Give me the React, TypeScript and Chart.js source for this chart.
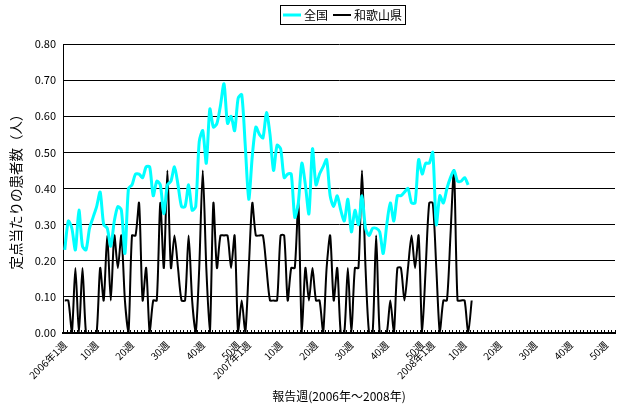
import React, { useEffect, useRef } from "react";
import { Chart, registerables } from "chart.js";

Chart.register(...registerables);

// Categories: weekly reports 2006-2008
const years = ["2006年", "2007年", "2008年"];
const weeksPerYear = 52;
const labeledWeeks = [1, 10, 20, 30, 40, 50];

// 全国 (national) per-sentinel counts, 2006w1 .. 2008w11
const national = [
  0.23, 0.31, 0.29, 0.23, 0.34, 0.24, 0.23, 0.29, 0.32, 0.35,
  0.39, 0.30, 0.29, 0.24, 0.31, 0.35, 0.34, 0.22, 0.40, 0.41,
  0.44, 0.44, 0.43, 0.46, 0.46, 0.38, 0.42, 0.41, 0.33, 0.41,
  0.42, 0.46, 0.41, 0.35, 0.35, 0.41, 0.34, 0.35, 0.53, 0.56,
  0.47, 0.62, 0.57, 0.58, 0.63, 0.69, 0.58, 0.60, 0.56, 0.65,
  0.66, 0.52, 0.37, 0.49, 0.57, 0.55, 0.54, 0.61, 0.55, 0.45,
  0.52, 0.51, 0.43, 0.44, 0.44, 0.32, 0.36, 0.47, 0.41, 0.33,
  0.51, 0.41, 0.44, 0.46, 0.48, 0.38, 0.35, 0.38, 0.34, 0.31,
  0.37, 0.28, 0.34, 0.30, 0.38, 0.29, 0.27, 0.29, 0.29, 0.28,
  0.22, 0.30, 0.36, 0.31, 0.38, 0.38, 0.39, 0.40, 0.36, 0.36,
  0.48, 0.44, 0.47, 0.47, 0.50, 0.30, 0.38, 0.36, 0.40, 0.43,
  0.45, 0.42, 0.42, 0.43, 0.41,
];

// 和歌山県 (Wakayama) per-sentinel counts, 2006w1 .. 2008w12
const wakayama = [
  0.09, 0.09, 0.00, 0.18, 0.00, 0.18, 0.00, 0.00, 0.00, 0.00,
  0.18, 0.09, 0.27, 0.09, 0.27, 0.18, 0.27, 0.09, 0.00, 0.27,
  0.27, 0.36, 0.09, 0.18, 0.00, 0.09, 0.09, 0.36, 0.18, 0.45,
  0.18, 0.27, 0.18, 0.09, 0.09, 0.27, 0.09, 0.00, 0.18, 0.45,
  0.18, 0.00, 0.36, 0.18, 0.27, 0.27, 0.27, 0.18, 0.27, 0.00,
  0.09, 0.00, 0.18, 0.36, 0.27, 0.27, 0.27, 0.18, 0.09, 0.09,
  0.09, 0.27, 0.27, 0.09, 0.18, 0.18, 0.36, 0.00, 0.18, 0.09,
  0.18, 0.09, 0.09, 0.00, 0.18, 0.27, 0.09, 0.18, 0.00, 0.00,
  0.18, 0.00, 0.18, 0.18, 0.45, 0.18, 0.00, 0.00, 0.27, 0.00,
  0.00, 0.00, 0.09, 0.00, 0.18, 0.18, 0.09, 0.18, 0.27, 0.18,
  0.27, 0.00, 0.18, 0.36, 0.36, 0.18, 0.00, 0.09, 0.09, 0.27,
  0.45, 0.09, 0.09, 0.09, 0.00, 0.09,
];

const seriesNames = ["全国", "和歌山県"];
const yTitle = "定点当たりの患者数（人）";
const xTitle = "報告週(2006年～2008年)";

const categories: string[] = [];
const tickText: string[] = [];
years.forEach((y) => {
  for (let w = 1; w <= weeksPerYear; w++) {
    categories.push(`${y}${w}週`);
    tickText.push(w === 1 ? `${y}1週` : labeledWeeks.includes(w) ? `${w}週` : "");
  }
});

const FONT = "'Noto Sans CJK JP', 'Noto Sans', sans-serif";

// Legend drawn in a bordered box, centred over the plot area
const boxedLegend = {
  id: "boxedLegend",
  afterDraw(chart: any) {
    const ctx = chart.ctx;
    const ds = chart.data.datasets;
    const area = chart.chartArea;
    ctx.save();
    ctx.font = `12px ${FONT}`;
    const lineLen = 18, gap = 3, itemGap = 5, pad = 3;
    const widths = ds.map((d: any) => ctx.measureText(d.label).width);
    let total = pad * 2 + itemGap * (ds.length - 1);
    widths.forEach((w: number) => (total += lineLen + gap + w));
    const cx = (area.left + area.right) / 2 + 4;
    const left = Math.round(cx - total / 2);
    const top = 5, h = 19;
    ctx.fillStyle = "#fff";
    ctx.fillRect(left, top, total, h);
    ctx.strokeStyle = "#000";
    ctx.lineWidth = 1;
    ctx.strokeRect(left + 0.5, top + 0.5, Math.round(total), h);
    let x = left + pad;
    const cy = top + h / 2 + 0.5;
    ds.forEach((d: any, i: number) => {
      ctx.strokeStyle = d.borderColor;
      ctx.lineWidth = d.borderWidth;
      ctx.beginPath();
      ctx.moveTo(x, cy);
      ctx.lineTo(x + lineLen, cy);
      ctx.stroke();
      x += lineLen + gap;
      ctx.fillStyle = "#000";
      ctx.textBaseline = "middle";
      ctx.textAlign = "left";
      ctx.fillText(d.label, x, cy);
      x += widths[i] + itemGap;
    });
    ctx.restore();
  },
};

// Small inward tick marks on the category axis
const innerTicks = {
  id: "innerTicks",
  afterDatasetsDraw(chart: any) {
    const xs = chart.scales.x;
    const area = chart.chartArea;
    const ctx = chart.ctx;
    const n = chart.data.labels.length;
    const step = (area.right - area.left) / n;
    ctx.save();
    ctx.strokeStyle = "#000";
    ctx.lineWidth = 1;
    ctx.beginPath();
    for (let i = 0; i <= n; i++) {
      const x = Math.round(xs.getPixelForValue(i) - step / 2) + 0.5;
      ctx.moveTo(x, area.bottom);
      ctx.lineTo(x, area.bottom - 3);
    }
    ctx.stroke();
    ctx.restore();
  },
};

export default function App() {
  const ref = useRef<HTMLCanvasElement | null>(null);
  useEffect(() => {
    document.body.style.margin = "0";
    if (!ref.current) return;
    const chart = new Chart(ref.current, {
      type: "line",
      data: {
        labels: categories,
        datasets: [
          {
            label: seriesNames[0],
            data: national,
            borderColor: "#00FFFF",
            backgroundColor: "#00FFFF",
            borderWidth: 3,
            pointRadius: 0,
            tension: 0.25,
          },
          {
            label: seriesNames[1],
            data: wakayama,
            borderColor: "#000000",
            backgroundColor: "#000000",
            borderWidth: 2,
            pointRadius: 0,
            tension: 0.25,
          },
        ],
      },
      options: {
        animation: false,
        responsive: true,
        maintainAspectRatio: false,
        color: "#000",
        layout: { padding: { left: 0, right: 4, top: 44, bottom: 0 } },
        plugins: {
          tooltip: { enabled: false },
          legend: { display: false },
        },
        scales: {
          x: {
            type: "category",
            offset: true,
            afterFit: (s: any) => {
              s.height = 79;
              s.paddingLeft = 0;
              s.paddingRight = 0;
            },
            grid: { display: false, drawTicks: false },
            border: { display: true, color: "#000", width: 2 },
            ticks: {
              autoSkip: false,
              minRotation: 45,
              maxRotation: 45,
              padding: 6,
              color: "#000",
              font: { family: FONT, size: 10 },
              callback: (_v: any, i: number) => tickText[i],
            },
            title: {
              display: true,
              text: xTitle,
              color: "#000",
              font: { family: FONT, size: 12 },
              padding: { top: 0, bottom: 8 },
            },
          },
          y: {
            min: 0,
            max: 0.8,
            afterFit: (s: any) => {
              s.width = 63;
            },
            grid: { color: "#000", lineWidth: 1, drawTicks: false },
            border: { display: true, color: "#000", width: 1 },
            ticks: {
              stepSize: 0.1,
              padding: 7,
              color: "#000",
              font: { family: FONT, size: 11 },
              callback: (v: any) => Number(v).toFixed(2),
            },
            title: {
              display: true,
              text: yTitle,
              color: "#000",
              font: { family: FONT, size: 13.5 },
              padding: { top: 8, bottom: 0 },
            },
          },
        },
      },
      plugins: [boxedLegend, innerTicks],
    });
    return () => chart.destroy();
  }, []);
  return (
    <div style={{ width: 619, height: 412, position: "relative" }}>
      <canvas ref={ref} />
    </div>
  );
}
